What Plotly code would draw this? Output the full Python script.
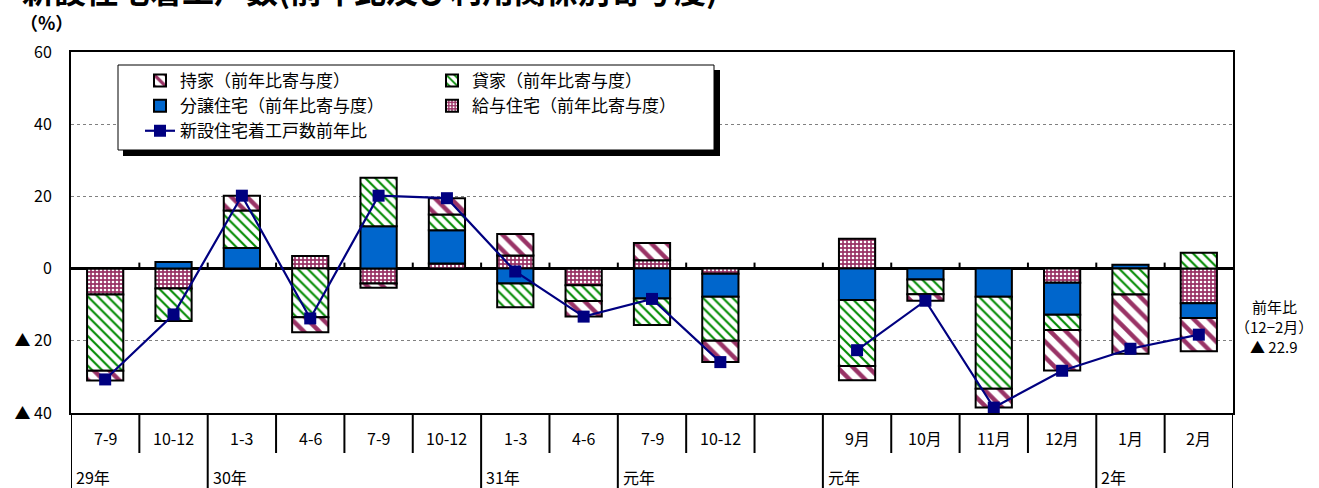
import plotly.graph_objects as go

# ---- data ----
periods = ["7-9", "10-12", "1-3", "4-6", "7-9", "10-12", "1-3", "4-6", "7-9", "10-12", "",
           "9月", "10月", "11月", "12月", "1月", "2月"]
year_labels = ["29年", "30年", "31年", "元年", "元年", "2年"]
year_starts = [0, 2, 6, 8, 11, 15]

kyuyo = [-7.2, -5.5, 0, 3.5, -4.1, 1.4, 3.6, -4.6, 2.3, -1.4, None, 8.3, 0, 0, -3.9, 0, -9.6]
bunjo = [0, 1.8, 5.7, 0, 11.7, 9.2, -4.1, 0, -8.3, -6.4, None, -8.7, -3.0, -7.8, -8.9, 1.1, -4.1]
kashiya = [-21.1, -9.0, 10.4, -13.5, 13.5, 4.4, -6.6, -4.4, -7.3, -12.2, None, -18.3, -4.1, -25.5, -4.2, -7.2, 4.4]
mochiie = [-2.7, 0, 4.1, -4.1, -1.2, 4.5, 6.0, -4.3, 4.8, -5.9, None, -3.9, -1.8, -5.2, -11.2, -16.4, -9.2]
total = [-30.7, -12.7, 20.2, -13.8, 20.2, 19.5, -0.8, -13.3, -8.4, -25.9, None, -22.6, -8.9, -38.5, -28.3, -22.2, -18.3]

ytick_vals = [60, 40, 20, 0, -20, -40]
ytick_text = ["60", "40", "20", "0", "▲ 20", "▲ 40"]

FONT = "Noto Sans CJK JP"
W, H = 1319, 488
L, R, T, B = 71, 86, 52, 75
PW = W - L - R
PH = H - T - B


def px(xp):
    return (xp - L) / PW


def py(yp):
    return (H - B - yp) / PH


xs = list(range(len(periods)))
maroon = "#993366"

fig = go.Figure()
line_style = dict(color="black", width=2)

fig.add_trace(go.Bar(x=xs, y=kyuyo, name="給与住宅（前年比寄与度）", width=0.53,
                     marker=dict(color=maroon, line=line_style,
                                 pattern=dict(shape=".", fgcolor="white", bgcolor=maroon,
                                              size=4, solidity=0.35, fgopacity=1)),
                     legend="legend2", legendrank=4, legendgroup="g4"))
fig.add_trace(go.Bar(x=xs, y=bunjo, name="分譲住宅（前年比寄与度）", width=0.53,
                     marker=dict(color="#0066CC", line=line_style),
                     legend="legend", legendrank=3, legendgroup="g3"))
fig.add_trace(go.Bar(x=xs, y=kashiya, name="貸家（前年比寄与度）", width=0.53,
                     marker=dict(color="white", line=line_style,
                                 pattern=dict(shape="\\", fgcolor="#008A00", bgcolor="white",
                                              size=7, solidity=0.3, fgopacity=1)),
                     legend="legend2", legendrank=2, legendgroup="g2"))
fig.add_trace(go.Bar(x=xs, y=mochiie, name="持家（前年比寄与度）", width=0.53,
                     marker=dict(color="white", line=line_style,
                                 pattern=dict(shape="\\", fgcolor=maroon, bgcolor="white",
                                              size=11, solidity=0.4, fgopacity=1)),
                     legend="legend", legendrank=1, legendgroup="g1"))
fig.add_trace(go.Scatter(x=xs, y=total, name="新設住宅着工戸数前年比", mode="lines+markers",
                         line=dict(color="#000080", width=2.2),
                         marker=dict(symbol="square", size=12, color="#000080"),
                         connectgaps=False,
                         legend="legend", legendrank=5, legendgroup="g5"))

shapes = []
# legend box with shadow
shapes.append(dict(type="rect", xref="paper", yref="paper", x0=px(123), x1=px(720), y0=py(156), y1=py(70),
                   fillcolor="black", line=dict(width=0), layer="above"))
shapes.append(dict(type="rect", xref="paper", yref="paper", x0=px(118), x1=px(714), y0=py(150), y1=py(65),
                   fillcolor="white", line=dict(color="black", width=1), layer="above"))

# table separators below the plot
row1_bottom = py(453)
table_bottom = py(495)
for k in range(1, len(periods)):
    xk = k - 0.5
    y_end = table_bottom if k in year_starts else row1_bottom
    shapes.append(dict(type="line", xref="x", yref="paper", x0=xk, x1=xk, y0=0, y1=y_end,
                       line=dict(color="black", width=2)))
    # small ticks on the zero line
    shapes.append(dict(type="line", xref="x", yref="y", ysizemode="pixel", yanchor=0,
                       x0=xk, x1=xk, y0=0, y1=6, line=dict(color="black", width=2)))
for xk in [-0.5, len(periods) - 0.5]:
    shapes.append(dict(type="line", xref="x", yref="paper", x0=xk, x1=xk, y0=0, y1=table_bottom,
                       line=dict(color="black", width=2)))

annotations = []
for i, lab in enumerate(periods):
    if lab:
        annotations.append(dict(x=i, y=py(438), xref="x", yref="paper", text=lab, showarrow=False,
                                font=dict(family=FONT, size=16, color="black"),
                                xanchor="center", yanchor="middle"))
for s, lab in zip(year_starts, year_labels):
    annotations.append(dict(x=s - 0.5, y=py(477), xref="x", yref="paper", text=lab, showarrow=False,
                            font=dict(family=FONT, size=16, color="black"),
                            xanchor="left", yanchor="middle", xshift=3))

# title (cut off at the top) and unit
annotations.append(dict(x=px(20), y=py(14), xref="paper", yref="paper",
                        text="<b>新設住宅着工戸数(前年比及び利用関係別寄与度)</b>", showarrow=False,
                        font=dict(family=FONT, size=32, color="black"),
                        xanchor="left", yanchor="bottom"))
annotations.append(dict(x=px(46), y=py(22), xref="paper", yref="paper", text="<b>（%）</b>",
                        showarrow=False, font=dict(family=FONT, size=18, color="black"),
                        xanchor="center", yanchor="middle"))
# right side note
for txt, yy in [("前年比", 306), ("（12−2月）", 326), ("▲ 22.9", 346)]:
    annotations.append(dict(x=px(1274), y=py(yy), xref="paper", yref="paper", text=txt,
                            showarrow=False, font=dict(family=FONT, size=15, color="black"),
                            xanchor="center", yanchor="middle"))

legend_common = dict(bgcolor="rgba(0,0,0,0)", borderwidth=0, traceorder="grouped",
                     tracegroupgap=0, font=dict(family=FONT, size=17, color="black"),
                     orientation="v", xanchor="left", yanchor="top", itemclick=False)

fig.update_layout(
    width=W, height=H,
    margin=dict(l=L, r=R, t=T, b=B, pad=0),
    paper_bgcolor="white", plot_bgcolor="white",
    barmode="relative", bargap=0.47,
    font=dict(family=FONT, size=14, color="black"),
    xaxis=dict(range=[-0.5, len(periods) - 0.5], showticklabels=False, ticks="",
               showgrid=False, zeroline=False, showline=True, mirror=True,
               linecolor="black", linewidth=2, fixedrange=True),
    yaxis=dict(range=[-40, 60], tickvals=ytick_vals, ticktext=ytick_text,
               showgrid=True, gridcolor="#808080", gridwidth=1, griddash="dot",
               zeroline=True, zerolinecolor="black", zerolinewidth=3,
               showline=True, mirror=True, linecolor="black", linewidth=2,
               ticks="", ticklabelstandoff=14,
               tickfont=dict(family=FONT, size=16, color="black"), fixedrange=True),
    legend=dict(x=px(140), y=py(63), **legend_common),
    legend2=dict(x=px(432), y=py(63), **legend_common),
    shapes=shapes,
    annotations=annotations,
    showlegend=True,
)

fig.write_html("out.html",
               config={"displayModeBar": False},
               post_script="document.body.style.margin='0';document.body.style.padding='0';"
                           "document.body.style.overflow='hidden';")
